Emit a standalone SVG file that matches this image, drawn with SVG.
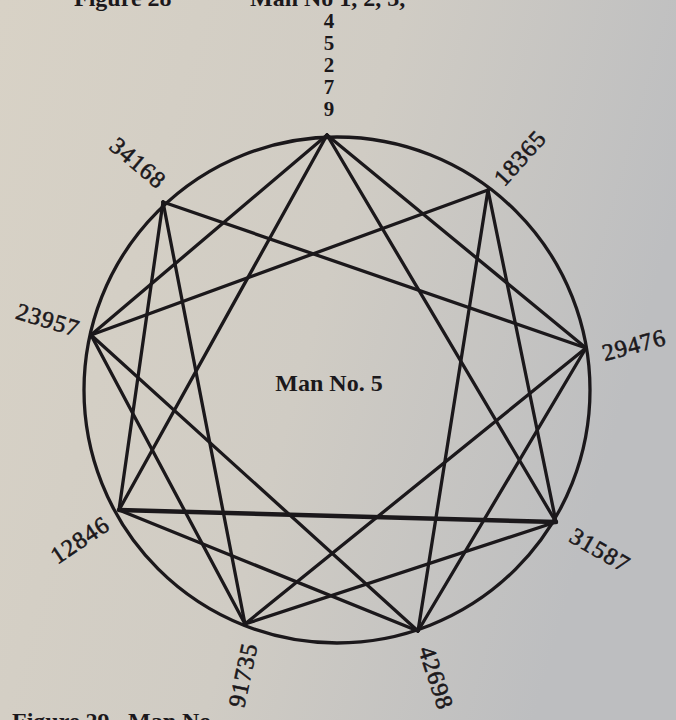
<svg xmlns="http://www.w3.org/2000/svg" width="676" height="720" viewBox="0 0 676 720">
<defs>
<linearGradient id="paper" x1="0" y1="0" x2="1" y2="0.3">
<stop offset="0" stop-color="#d8d2c6"/>
<stop offset="0.55" stop-color="#d0ccc4"/>
<stop offset="1" stop-color="#bdbec0"/>
</linearGradient>
<style>
.ln{stroke:#1b181b;stroke-width:3.3;fill:none;stroke-linecap:round}
.lbl{font-family:"Liberation Serif","Times New Roman",serif;font-size:24px;fill:#1b181b;stroke:#1b181b;stroke-width:0.6;text-anchor:middle;letter-spacing:1px}
.top{font-family:"Liberation Serif","Times New Roman",serif;font-size:21px;font-weight:bold;fill:#1b181b;text-anchor:middle}
.cap{font-family:"Liberation Serif","Times New Roman",serif;font-size:24px;font-weight:bold;fill:#1b181b}
.title{font-family:"Liberation Serif","Times New Roman",serif;font-size:24px;font-weight:bold;fill:#1b181b;text-anchor:middle}
</style>
</defs>
<rect width="676" height="720" fill="url(#paper)"/>
<text class="cap" x="74" y="6">Figure 28</text>
<text class="cap" x="250" y="6">Man No 1, 2, 3,</text>
<text class="cap" x="12" y="729">Figure 29</text>
<text class="cap" x="128" y="729">Man No</text>
<g id="connectors">
<circle class="ln" cx="337" cy="390" r="253"/>
<line class="ln" x1="327" y1="135" x2="586" y2="348"/>
<line class="ln" x1="488" y1="190" x2="556" y2="522"/>
<line class="ln" x1="586" y1="348" x2="418" y2="631"/>
<line class="ln" x1="556" y1="522" x2="245" y2="624"/>
<line class="ln" x1="418" y1="631" x2="119" y2="510"/>
<line class="ln" x1="245" y1="624" x2="91" y2="335"/>
<line class="ln" x1="119" y1="510" x2="163" y2="202"/>
<line class="ln" x1="91" y1="335" x2="327" y2="135"/>
<line class="ln" x1="327" y1="135" x2="556" y2="522"/>
<line class="ln" x1="556" y1="522" x2="119" y2="510" style="stroke-width:4.5"/>
<line class="ln" x1="119" y1="510" x2="327" y2="135"/>
<line class="ln" x1="488" y1="190" x2="418" y2="631"/>
<line class="ln" x1="418" y1="631" x2="91" y2="335"/>
<line class="ln" x1="91" y1="335" x2="488" y2="190"/>
<line class="ln" x1="586" y1="348" x2="245" y2="624"/>
<line class="ln" x1="245" y1="624" x2="163" y2="202"/>
<line class="ln" x1="163" y1="202" x2="586" y2="348"/>
</g>
<g id="n9">
<text class="top" x="329" y="28">4</text>
<text class="top" x="329" y="50">5</text>
<text class="top" x="329" y="72">2</text>
<text class="top" x="329" y="94">7</text>
<text class="top" x="329" y="116">9</text>
</g>
<g id="n1"><text class="lbl" transform="translate(520,158) rotate(-48)" dy="8">18365</text></g>
<g id="n2"><text class="lbl" transform="translate(634,345) rotate(-15)" dy="8">29476</text></g>
<g id="n3"><text class="lbl" transform="translate(600,550) rotate(30)" dy="8">31587</text></g>
<g id="n4"><text class="lbl" transform="translate(436,678) rotate(72)" dy="8">42698</text></g>
<g id="n5"><text class="lbl" transform="translate(243,675) rotate(-78)" dy="8">91735</text></g>
<g id="n6"><text class="lbl" transform="translate(80,540) rotate(-34)" dy="8">12846</text></g>
<g id="n7"><text class="lbl" transform="translate(48,320) rotate(17)" dy="8">23957</text></g>
<g id="n8"><text class="lbl" transform="translate(138,163) rotate(40)" dy="8">34168</text></g>
<g id="center"><text class="title" x="329" y="391">Man No. 5</text></g>
</svg>
